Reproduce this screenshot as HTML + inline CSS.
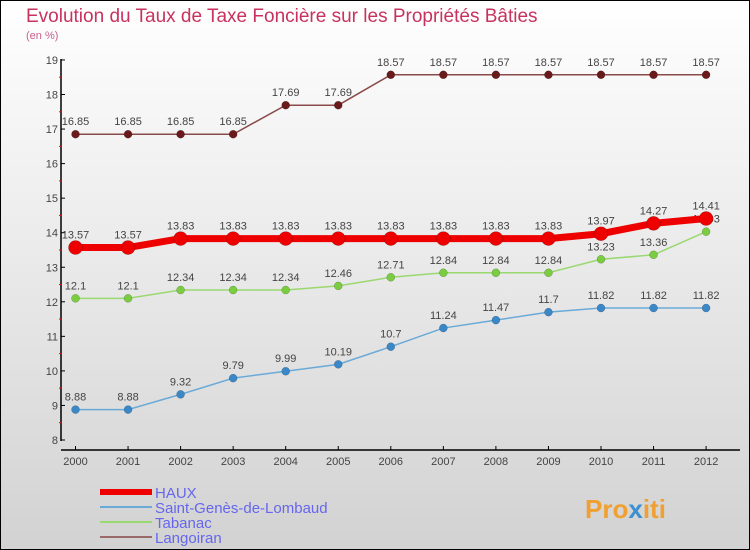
<!DOCTYPE html>
<html><head><meta charset="utf-8"><style>
body{margin:0}
#c{width:750px;height:550px;position:relative;overflow:hidden;font-family:"Liberation Sans",sans-serif}
</style></head><body>
<div id="c">
<svg id="s" width="750" height="550" xmlns="http://www.w3.org/2000/svg">
<defs><linearGradient id="bg" x1="0" y1="0" x2="0" y2="1"><stop offset="0" stop-color="#ffffff"/><stop offset="1" stop-color="#d2d2d2"/></linearGradient></defs>
<rect x="0.5" y="0.5" width="749" height="549" fill="url(#bg)" stroke="#000"/>
<text x="26" y="22" font-size="19" fill="#c8325f">Evolution du Taux de Taxe Foncière sur les Propriétés Bâties</text>
<text x="26" y="39" font-size="11" fill="#c8608a">(en %)</text>
<g id="axes"></g><g id="series"></g><g id="legend"></g>
<text x="585" y="518" font-size="26" font-weight="bold" fill="#f0a030">Pro<tspan fill="#3c8fd0">x</tspan>iti</text>
</svg></div>
<script>
const years=[2000,2001,2002,2003,2004,2005,2006,2007,2008,2009,2010,2011,2012];
const yTicks=[8,9,10,11,12,13,14,15,16,17,18,19];
const haux=[13.57,13.57,13.83,13.83,13.83,13.83,13.83,13.83,13.83,13.83,13.97,14.27,14.41];
const saint=[8.88,8.88,9.32,9.79,9.99,10.19,10.7,11.24,11.47,11.7,11.82,11.82,11.82];
const tabanac=[12.1,12.1,12.34,12.34,12.34,12.46,12.71,12.84,12.84,12.84,13.23,13.36,14.03];
const langoiran=[16.85,16.85,16.85,16.85,17.69,17.69,18.57,18.57,18.57,18.57,18.57,18.57,18.57];
const NS="http://www.w3.org/2000/svg";
const X=i=>75.5+i*52.55;
const Y=v=>440-(v-8)*34.55;
function mk(tag,attrs,parent,txt){const e=document.createElementNS(NS,tag);for(const k in attrs)e.setAttribute(k,attrs[k]);if(txt!==undefined)e.textContent=txt;parent.appendChild(e);return e;}
const ax=document.getElementById('axes');
let yl=mk('line',{x1:61,y1:59,x2:61,y2:441,stroke:'#000','stroke-width':1.5},ax);


let xl=mk('line',{x1:61,y1:450,x2:740,y2:450,stroke:'#000','stroke-width':1.5},ax);


yTicks.forEach(v=>{
  mk('line',{x1:61,y1:Y(v),x2:65,y2:Y(v),stroke:'#000'},ax);
  if(v<19)mk('line',{x1:59,y1:Y(v+0.5),x2:62,y2:Y(v+0.5),stroke:'#f00'},ax);
  const t=mk('text',{x:58,y:Y(v)+4,'font-size':11,fill:'#444','text-anchor':'end'},ax,v);
  
  
});
years.forEach((yr,i)=>{
  mk('line',{x1:X(i),y1:446,x2:X(i),y2:450,stroke:'#000'},ax);
  const t=mk('text',{x:X(i),y:465,'font-size':11,fill:'#444','text-anchor':'middle'},ax,yr);
  
  
});
const sg=document.getElementById('series');
function draw(vals,name,lc,pc,lw,r){
  const g=mk('g',{},sg);
  
  
  const p=mk('polyline',{points:vals.map((v,i)=>X(i)+','+Y(v)).join(' '),fill:'none',stroke:lc,'stroke-width':lw},g);
  
  
  vals.forEach((v,i)=>{
    const c=mk('circle',{cx:X(i),cy:Y(v),r:r,fill:pc,stroke:'rgba(0,0,0,0.3)','stroke-width':0.5},g);
    
    
    const t=mk('text',{x:X(i),y:Y(v)-9,'font-size':11,fill:'#444','text-anchor':'middle'},g,String(v));
    
    
  });
}
draw(langoiran,'langoiran','#8a4a4a','#6a1a1a',1.5,4);
draw(saint,'saint-genes','#6aaad8','#3a88c8',1.5,4);
draw(tabanac,'tabanac','#9ad870','#7acc40',1.5,4);
draw(haux,'haux','#ee0000','#ee0000',7,7);
const lg=document.getElementById('legend');
const items=[['HAUX','#ee0000',6],['Saint-Genès-de-Lombaud','#6aaad8',2],['Tabanac','#9ad870',2],['Langoiran','#9a6a6a',2]];
items.forEach((it,i)=>{
  const y=492+i*15;
  const l=mk('line',{x1:100,y1:y,x2:152,y2:y,stroke:it[1],'stroke-width':it[2]},lg);
  
  
  const t=mk('text',{x:155,y:y+6,'font-size':15,fill:'#6666ee'},lg,it[0]);
  
  
});
</script>
</body></html>
